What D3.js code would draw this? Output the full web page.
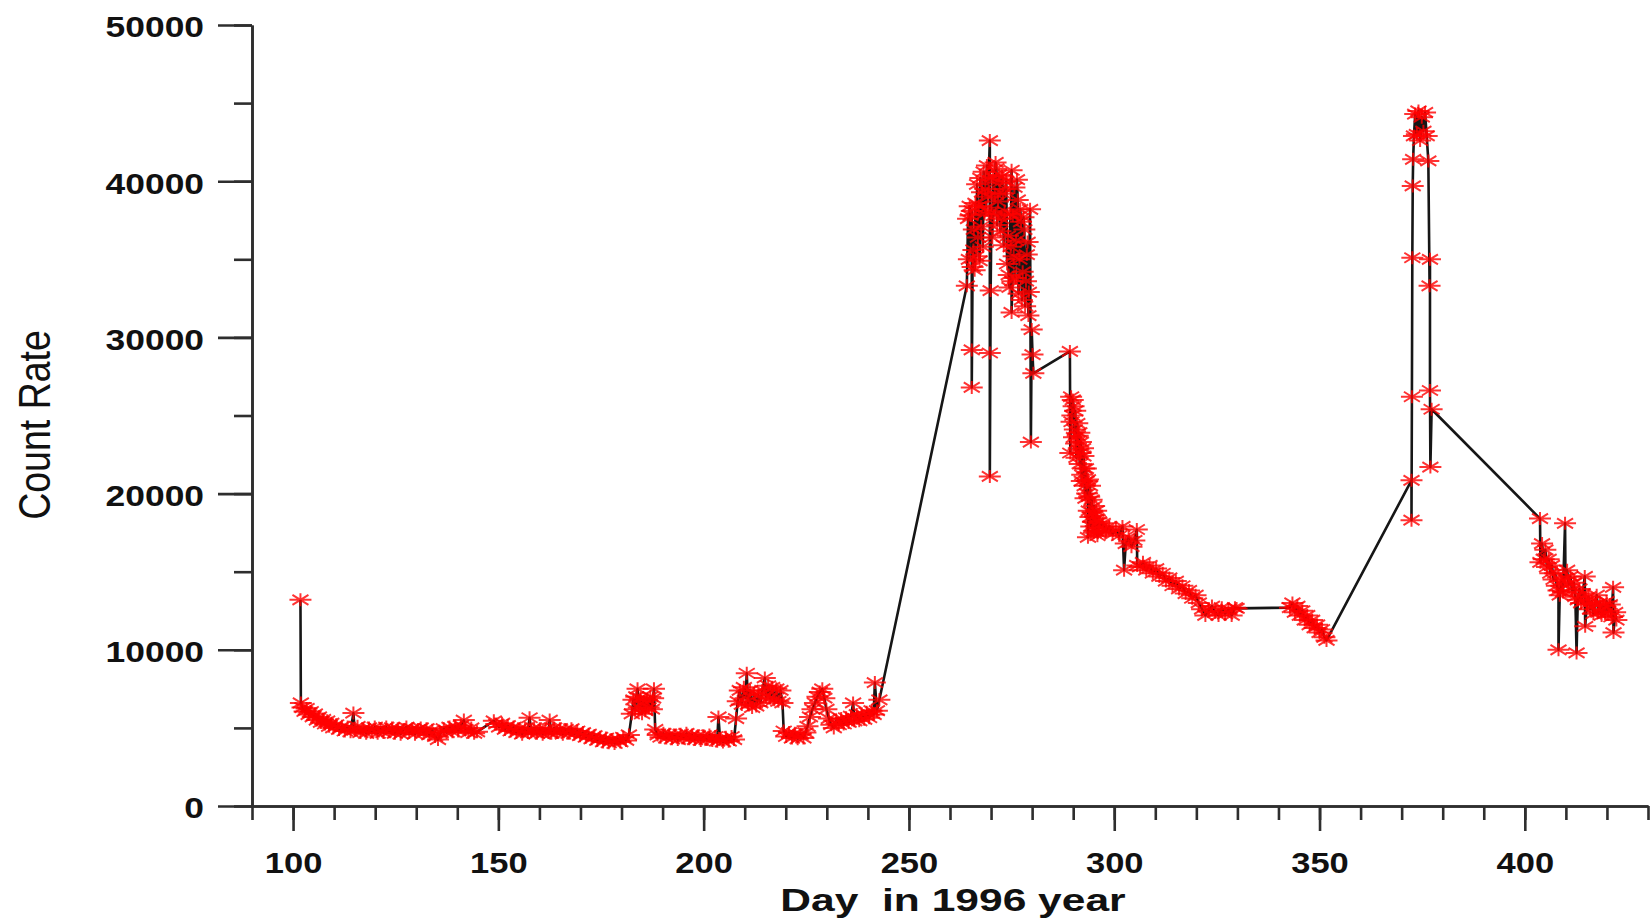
<!DOCTYPE html>
<html>
<head>
<meta charset="utf-8">
<script src="https://cdn.jsdelivr.net/npm/d3@7"></script>
<style>
  body { margin: 0; background: #fff; }
  svg { display: block; background: #fff; }
</style>
</head>
<body>
<svg id="chart" width="1652" height="923"></svg>
<script>
// Count-rate observations, [day of 1996, count rate], grouped by activity phase.
const quietPhase = [
  [101.8,13200],[101.9,6600],[102.3,6300],[102.8,6050],[103.3,6250],[103.8,5850],[104.3,6050],[104.8,5700],
  [105.3,5900],[105.8,5500],[106.3,5700],[106.8,5350],[107.3,5550],[107.8,5250],[108.3,5450],[108.8,5100],
  [109.3,5300],[109.8,5000],[110.5,5200],[111.2,4900],[111.9,5100],[112.6,4800],[113.3,5050],[114.0,4750],
  [114.7,5950],[115.0,4850],[115.7,5100],[116.4,4700],[117.1,4950],[117.8,4650],[118.5,5000],[119.2,4750],
  [119.9,5050],[120.6,4650],[121.3,4950],[122.0,4700],[122.7,5050],[123.4,4750],[124.1,5000],[124.8,4650],
  [125.5,4950],[126.2,4600],[126.9,4900],[127.6,5050],[128.3,4700],[129.0,4950],[129.7,4600],[130.4,4900],
  [131.1,5000],[131.8,4650],[132.5,4950],[133.2,4550],[133.9,4850],[134.6,4450],[135.3,4250],[136.0,4700],
  [136.7,4950],[137.4,4700],[138.1,5050],[138.8,4750],[139.5,5100],[140.2,4800],[140.9,5150],[141.6,5500],
  [142.0,4900],[142.7,4700],[143.4,5000],[144.1,4650],[144.8,4750],
  [148.9,5450],[149.5,5250],[150.2,5050],[150.9,5300],[151.6,4900],[152.3,5150],[153.0,4800],[153.7,5050],
  [154.4,4700],[155.1,4950],[155.8,4600],[156.5,5000],[157.2,4700],[157.6,5650],[158.0,4750],[158.7,5000],
  [159.4,4650],[160.1,4950],[160.8,4600],[161.5,4900],[162.2,4700],[162.5,5500],[162.9,4650],[163.6,5000],
  [164.3,4700],[165.0,4950],[165.7,4600],[166.4,4900],[167.1,4650],[167.8,4950],[168.5,4600],[169.2,4800],
  [169.9,4500],[170.6,4700],[171.3,4400],[172.0,4600],[172.7,4300],[173.4,4500],[174.1,4200],[174.8,4400],
  [175.5,4100],[176.2,4350],[176.9,4050],[177.6,4250],[178.3,4000],[179.0,4300],[179.7,4100],[180.4,4400],
  [181.1,4200],[181.8,4550],
  [182.5,5900],[182.9,6800],[183.3,6200],[183.6,7000],[183.9,7500],[184.2,6300],[184.6,6900],[185.0,5900],
  [185.4,6700],[185.8,6100],[186.2,6800],[186.6,6300],[187.0,7000],[187.4,6200],[187.7,6900],[187.9,7500],
  [188.2,4900],[188.8,4550],[189.5,4400],[190.2,4650],[190.9,4350],[191.6,4600],[192.3,4300],[193.0,4550],
  [193.7,4250],[194.4,4600],[195.1,4350],[195.8,4650],[196.5,4300],[197.2,4550],[197.9,4250],[198.6,4500],
  [199.3,4200],[200.0,4500],[200.7,4250],[201.4,4550],[202.1,4200],[202.8,4450],[203.3,4150],[203.6,5700],
  [204.0,4300],[204.7,4100],[205.4,4400],[206.1,4150],[206.8,4450],[207.4,4250],[207.9,5600],[208.3,6700],
  [208.8,7400],[209.3,6500],[209.8,7600],[210.2,6900],[210.5,8500],[210.8,6500],[211.3,7400],[211.8,6300],
  [212.3,7200],[212.8,6400],[213.3,7100],[213.8,6600],[214.3,7400],[214.9,8200],[215.2,7000],[215.7,7700],
  [216.2,6900],[216.7,7600],[217.2,6800],[217.7,7500],[218.2,6700],[218.7,7400],[219.2,6600],[219.5,4800],
  [220.1,4450],[220.8,4700],[221.5,4350],[222.2,4650],[222.9,4300],[223.6,4600],[224.3,4350],[224.8,4700],
  [225.3,5100],[225.9,5700],[226.5,6200],[227.1,6600],[227.7,7000],[228.3,7300],[228.9,7500],[229.4,6900],
  [229.9,6200],[230.5,5600],[231.1,5200],[231.7,5000],[232.3,5450],[232.9,5200],[233.5,5600],[234.1,5250],
  [234.7,5650],[235.3,5350],[235.9,5750],[236.4,6600],[236.7,5450],[237.3,5850],[237.9,5450],[238.5,5900],
  [239.1,5550],[239.7,6000],[240.3,5650],[240.9,6100],[241.4,5850],[241.7,7900],[242.2,6100],[242.8,6800]
];

const firstOutburst = [
  [264.1,33300],[264.4,37600],[264.6,35000],[264.8,38400],[265.0,37800],[265.3,38100],[265.3,29200],[265.3,26800],
  [265.5,34500],[265.7,35600],[265.8,36900],[266.0,34300],[266.2,38600],[266.4,35200],[266.6,39800],[266.8,36400],
  [267.0,38400],[267.2,34900],[267.4,40200],[267.6,37100],[267.8,39300],[268.0,35800],[268.2,40600],[268.4,37900],
  [268.6,39500],[268.8,38300],[269.0,41000],[269.2,39000],[269.4,40100],[269.7,42600],[269.7,29000],[269.7,21100],
  [269.9,33000],[270.1,38000],[270.3,36400],[270.5,40300],[270.7,37800],[270.9,39200],[271.1,41200],[271.3,40800],
  [271.5,37200],[271.7,38700],[271.9,40400],[272.1,39900],[272.3,36800],[272.5,37600],[272.7,40300],[272.9,39200],
  [273.1,35900],[273.3,38100],[273.5,39500],[273.7,40000],[273.9,34700],[274.1,36500],[274.3,34000],[274.5,33200],
  [274.7,37900],[274.8,35800],[275.0,40700],[275.0,31600],[275.2,33600],[275.3,37800],[275.5,35200],[275.7,39600],
  [275.9,33800],[276.1,36200],[276.3,40100],[276.5,38800],[276.7,32800],[276.9,35000],[277.1,38200],[277.3,37400],
  [277.5,32400],[277.7,34200],[277.9,37700],[278.1,36900],[278.3,32000],[278.5,33600],[278.7,35300],[278.9,36100],
  [279.1,31400],[279.2,32900],[279.5,38200],[279.7,23300],[279.9,30500],[280.1,28900],[280.3,27700]
];

const decayPhase = [
  [289.2,29100],[289.3,22600],[289.5,26200],[289.6,24600],[289.8,25000],[289.9,26000],[290.1,25600],[290.2,23600],
  [290.4,24100],[290.5,25300],[290.7,23200],[290.8,22300],[291.0,24500],[291.1,23700],[291.3,22800],[291.5,23900],
  [291.6,21900],[291.8,22600],[291.9,23300],[292.1,20800],[292.2,21200],[292.4,22900],[292.5,22400],[292.7,21600],
  [292.8,20500],[293.0,19700],[293.1,21600],[293.3,20800],[293.4,20000],[293.6,20900],[293.6,17200],[293.8,18900],
  [293.9,19800],[294.1,20500],[294.2,18500],[294.4,17900],[294.5,19600],[294.7,18800],[294.8,18200],[295.0,17500],
  [295.1,19200],[295.3,18600],[295.4,17600],[295.6,18900],[295.7,18400],[295.9,17300],[296.0,17500],[296.3,18200],
  [296.5,17800],[297.2,18100],[298.0,17600],[298.8,17900],[299.6,17400],[300.4,17700],[301.2,17300],[302.0,17900],
  [302.4,15100],[302.8,16800],[303.5,17200],[304.2,16600],[304.9,17000],[305.5,17700],[305.6,15400],[306.3,15300],
  [307.0,15600],[307.8,15100],[308.6,15400],[309.4,14900],[310.2,15200],[311.0,14700],[311.8,14900],[312.6,14400],
  [313.4,14600],[314.2,14100],[315.0,14400],[315.8,13900],[316.6,14100],[317.4,13600],[318.2,13800],[319.0,13300],
  [319.8,13500],[320.6,13000],[321.4,12600],[322.2,12200],[323.0,12500],[323.8,12800],[324.6,12400],[325.4,12200],
  [326.2,12700],[327.0,12300],[327.8,12600],[328.6,12200],[329.4,12700],[329.8,12650],
  [342.8,12700],[343.4,13000],[344.0,12400],[344.6,12800],[345.2,12200],[345.8,12500],[346.4,11900],[347.0,12200],
  [347.6,11600],[348.2,11900],[348.8,11400],[349.4,11600],[350.0,11100],[350.6,11300],[351.2,10800],[351.7,10600]
];

const secondOutburst = [
  [372.4,20850],[372.4,18300],[372.5,26200],[372.6,35100],[372.7,39700],[372.8,41400],[373.0,42900],[373.3,44300],
  [373.7,43000],[374.1,44500],[374.5,42600],[374.9,44100],[375.3,43200],[375.7,44400],[376.1,42900],[376.5,41300],
  [376.8,33300],[376.9,35000],[376.9,26600],[377.0,21700],[377.3,25400]
];

const lateActivity = [
  [403.7,18400],[403.8,15600],[404.2,16800],[404.6,15800],[405.0,16400],[405.4,15300],[405.8,15800],[406.2,14900],
  [406.6,15400],[407.0,14500],[407.4,14900],[407.8,14100],[408.2,13800],[408.2,10000],[408.5,13500],[408.9,14400],
  [409.3,13700],[409.8,18100],[409.9,14600],[410.3,15100],[410.7,14200],[411.1,14700],[411.5,13800],[411.9,14300],
  [412.3,13400],[412.6,9800],[412.9,13200],[413.3,13900],[413.7,13000],[414.1,13600],[414.6,14700],[414.7,11500],
  [415.1,12900],[415.5,13400],[415.9,12600],[416.3,13100],[416.7,12300],[417.1,12900],[417.5,13500],[417.9,12400],
  [418.3,13000],[418.7,12200],[419.1,12800],[419.5,12300],[419.9,13100],[420.3,12500],[420.7,12900],[421.1,12100],
  [421.5,14000],[421.6,11100],[422.0,12400],[422.3,11900]
];

const xMajorTicks = [100, 150, 200, 250, 300, 350, 400];
const yMajorTicks = [0, 10000, 20000, 30000, 40000, 50000];
const xTitle = "Day\u00a0 in 1996 year";
const yTitle = "Count Rate";

const observations = [...quietPhase, ...firstOutburst, ...decayPhase, ...secondOutburst, ...lateActivity]
  .map(([day, rate]) => ({ day, rate }));

const svg = d3.select("#chart");
const x = d3.scaleLinear().domain([90, 430]).range([252, 1648]);
const y = d3.scaleLinear().domain([0, 50000]).range([806, 25]);

const axisColor = "#2e2e2e";
const labelFont = "'Liberation Sans', Arial, Helvetica, sans-serif";

function styleAxis(g) {
  g.select(".domain").attr("stroke", axisColor).attr("stroke-width", 2.6);
  g.selectAll(".tick line").attr("stroke", axisColor).attr("stroke-width", 2.6);
}

// x axis: minor ticks every 10 days, labelled major ticks every 50
const xMinor = svg.append("g").attr("transform", `translate(0,${y(0)})`)
  .call(d3.axisBottom(x).tickValues(d3.range(90, 431, 10)).tickSize(14).tickSizeOuter(0).tickFormat(""));
styleAxis(xMinor);

const xMajor = svg.append("g").attr("transform", `translate(0,${y(0)})`)
  .call(d3.axisBottom(x).tickValues(xMajorTicks).tickSize(25).tickSizeOuter(0).tickFormat(d3.format("d")));
styleAxis(xMajor);
xMajor.selectAll(".tick text")
  .attr("fill", "#111")
  .attr("font-family", labelFont)
  .attr("font-weight", "bold")
  .attr("font-size", 29.5)
  .attr("dy", 0)
  .attr("y", 67)
  .attr("transform", "scale(1.17,1)");

// y axis: minor ticks every 5000, labelled major ticks every 10000
const yMinor = svg.append("g").attr("transform", `translate(${x(90)},0)`)
  .call(d3.axisLeft(y).tickValues(d3.range(0, 50001, 5000)).tickSize(18).tickSizeOuter(0).tickFormat(""));
styleAxis(yMinor);

const yMajor = svg.append("g").attr("transform", `translate(${x(90)},0)`)
  .call(d3.axisLeft(y).tickValues(yMajorTicks).tickSize(34).tickSizeOuter(0).tickFormat(d3.format("d")));
styleAxis(yMajor);
yMajor.selectAll(".tick text")
  .attr("fill", "#111")
  .attr("font-family", labelFont)
  .attr("font-weight", "bold")
  .attr("font-size", 29.5)
  .attr("x", -48 / 1.2)
  .attr("dy", "0.4em")
  .attr("transform", "scale(1.2,1)");

// axis titles
svg.append("text")
  .attr("transform", "translate(953,911) scale(1.33,1)")
  .attr("text-anchor", "middle")
  .attr("font-family", labelFont)
  .attr("font-weight", "bold")
  .attr("font-size", 32)
  .attr("fill", "#111")
  .text(xTitle);

svg.append("text")
  .attr("transform", "translate(50,425) scale(1.2,1) rotate(-90)")
  .attr("text-anchor", "middle")
  .attr("font-family", labelFont)
  .attr("font-size", 37.5)
  .attr("fill", "#111")
  .text(yTitle);

// connecting line
const line = d3.line().x(d => x(d.day)).y(d => y(d.rate));
svg.append("path")
  .datum(observations)
  .attr("fill", "none")
  .attr("stroke", "#161616")
  .attr("stroke-width", 2.6)
  .attr("stroke-linejoin", "round")
  .attr("d", line);

// asterisk markers at every observation
const asterisk = "M-11,0H11M0,-6.5V6.5M-8,-5L8,5M-8,5L8,-5";
svg.append("g")
  .selectAll("path")
  .data(observations)
  .join("path")
  .attr("transform", d => `translate(${x(d.day)},${y(d.rate)})`)
  .attr("d", asterisk)
  .attr("fill", "none")
  .attr("stroke", "#ff0000")
  .attr("stroke-opacity", 0.8)
  .attr("stroke-width", 2);
</script>
</body>
</html>
